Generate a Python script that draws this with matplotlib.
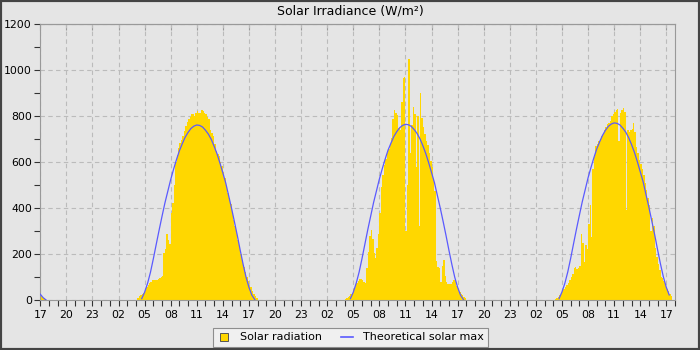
import numpy as np
import matplotlib.pyplot as plt
from matplotlib.lines import Line2D
from matplotlib.patches import Rectangle

# x axis runs in hours from 17:00 on the first day
start_hour = 17
x_span = 73
midnights = [7, 31, 55]          # hours of the three following midnights

# Solar radiation, 10 minute records (W/m²)
rad0_start = 17.0 - 24           # evening of the first day
rad0 = [20, 14, 8, 4, 1]

rad1_start = 4 + 10 / 60
rad1 = [10, 16, 22, 28, 32, 42, 55, 64, 72, 80, 85, 87, 88, 88, 92, 95, 100, 104,
        205, 220, 285, 260, 245, 377, 420, 500, 600, 630, 660, 681, 697, 715, 735,
        755, 772, 785, 795, 808, 808, 800, 815, 822, 815, 812, 828, 822, 815, 810,
        795, 788, 740, 725, 712, 680, 650, 636, 628, 600, 582, 556, 530, 495, 465,
        443, 416, 377, 350, 320, 290, 260, 235, 198, 172, 145, 120, 100, 82, 65, 55,
        40, 28, 18, 9, 2]

rad2_start = 4.0
rad2 = [5, 10, 14, 18, 24, 32, 50, 63, 72, 84, 92, 93, 88, 80, 76, 140, 210, 280,
        305, 265, 205, 182, 228, 285, 380, 490, 545, 585, 612, 638, 658, 676, 705,
        785, 825, 815, 805, 746, 739, 860, 964, 971, 300, 500, 1050, 640, 760, 840,
        810, 580, 800, 320, 900, 790, 754, 720, 690, 675, 640, 605, 580, 525, 475,
        170, 145, 138, 80, 150, 175, 105, 80, 68, 70, 68, 80, 87, 87, 62, 48, 35, 26,
        20, 14, 7, 2]

rad3_start = 4.0
rad3 = [2, 4, 10, 14, 20, 30, 40, 50, 58, 65, 72, 88, 98, 115, 140, 145, 135, 138,
        150, 285, 246, 165, 240, 220, 330, 415, 275, 570, 620, 670, 678, 690, 700,
        712, 728, 740, 754, 765, 770, 778, 800, 810, 817, 826, 830, 690, 812, 826,
        833, 818, 391, 739, 732, 738, 744, 768, 730, 665, 640, 610, 590, 570, 544,
        510, 480, 445, 412, 300, 355, 320, 225, 185, 155, 130, 102, 95, 82, 65, 50,
        40, 28, 18]

# Theoretical solar max, 20 minute values (W/m²)
th0_start = 17.0 - 24
th0 = [25, 10, 0]

th_start = 4 + 40 / 60
th1 = [6, 34, 72, 120, 179, 242, 304, 364, 422, 473, 524, 569, 611, 649, 680, 708,
       729, 746, 756, 761, 759, 752, 738, 721, 698, 668, 635, 595, 552, 508, 453,
       398, 339, 279, 215, 154, 99, 55, 21, 2]
th2 = [6, 34, 73, 121, 180, 243, 306, 365, 424, 475, 526, 571, 613, 652, 682, 711,
       732, 749, 759, 764, 762, 755, 741, 724, 701, 671, 637, 597, 554, 510, 455,
       400, 341, 280, 216, 155, 99, 55, 21, 2]
th3 = [6, 35, 73, 122, 181, 245, 308, 368, 427, 479, 531, 576, 618, 657, 688, 716,
       738, 755, 765, 770, 768, 761, 747, 730, 706, 676, 642, 602, 558, 514, 458,
       403, 343, 283, 218, 156, 100, 55, 22]

GOLD = '#ffd700'
BLUE = '#5a5aff'
BG = '#e5e5e5'

fig = plt.figure(figsize=(7, 3.5), dpi=100, facecolor=BG)
ax = fig.add_axes([40.3 / 700, 50 / 350, (675 - 40.3) / 700, 276 / 350])
ax.set_facecolor(BG)

# radiation bars, one filled staircase per day
rad_days = [(midnights[0] + rad0_start, rad0), (midnights[0] + rad1_start, rad1),
            (midnights[1] + rad2_start, rad2), (midnights[2] + rad3_start, rad3)]
for t0, vals in rad_days:
    edges = t0 + np.arange(len(vals) + 1) / 6
    ax.stairs(vals, edges, fill=True, color=GOLD, linewidth=0, zorder=2)

th_days = [(midnights[0] + th0_start, th0), (midnights[0] + th_start, th1),
           (midnights[1] + th_start, th2), (midnights[2] + th_start, th3)]
for t0, vals in th_days:
    xs = t0 + np.arange(len(vals)) / 3
    ax.plot(xs, vals, color=BLUE, linewidth=0.9, zorder=3)

ax.set_xlim(0, x_span)
ax.set_ylim(0, 1200)

major = np.arange(0, x_span, 3)
ax.set_xticks(major)
ax.set_xticklabels([f"{(start_hour + int(h)) % 24:02d}" for h in major])
ax.set_xticks(np.arange(0, x_span + 1, 1), minor=True)
ax.set_yticks(np.arange(0, 1201, 200))
ax.set_yticks(np.arange(0, 1201, 100), minor=True)

ax.tick_params(which='both', direction='out', length=4, width=0.8,
               color='#333333', labelsize=7.8, pad=2)
ax.tick_params(axis='x', pad=3)

top = ax.secondary_xaxis('top')
top.set_xticks(major)
top.tick_params(direction='in', length=4, width=0.8, color='#999999',
                labeltop=False)
top.spines['top'].set_color('#999999')

for s in ax.spines.values():
    s.set_color('#999999')
    s.set_linewidth(0.8)

ax.set_axisbelow(True)
ax.grid(True, which='major', linestyle=(0, (4, 3)), color='#bbbbbb',
        linewidth=0.8)

fig.text(0.5, 1 - 11 / 350, 'Solar Irradiance (W/m²)', ha='center',
         va='center', fontsize=9)

handles = [Line2D([], [], marker='s', linestyle='none', markersize=6,
                  markerfacecolor=GOLD, markeredgecolor='#555555',
                  markeredgewidth=0.7),
           Line2D([], [], color=BLUE, linewidth=1.2)]
leg = fig.legend(handles, ['Solar radiation', 'Theoretical solar max'],
                 loc='center', bbox_to_anchor=(350.5 / 700, 12.5 / 350), ncol=2,
                 fontsize=8, frameon=True, fancybox=False, handlelength=1.1,
                 handletextpad=0.9, columnspacing=1.7, borderpad=0.4,
                 borderaxespad=0)
leg.get_frame().set_facecolor('#f4f4f4')
leg.get_frame().set_edgecolor('#777777')
leg.get_frame().set_linewidth(0.8)

fig.patches.append(Rectangle((0, 0), 1, 1, transform=fig.transFigure,
                             fill=False, edgecolor='#444444', linewidth=3))

fig.savefig('out.png', dpi=100, facecolor=BG)
